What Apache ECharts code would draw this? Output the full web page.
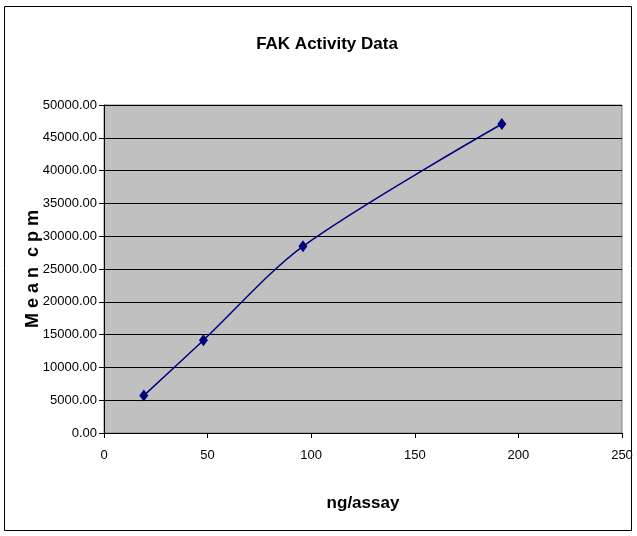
<!DOCTYPE html>
<html><head><meta charset="utf-8">
<script src="https://cdn.jsdelivr.net/npm/echarts@6/dist/echarts.min.js"></script>
<style>html,body{margin:0;padding:0;background:#fff}#c{width:637px;height:536px}</style>
</head><body><div id="c"></div>
<script>
var xValues = [19.2, 48, 96, 192];
var yValues = [5700, 14150, 28450, 47100];
var titleText = 'FAK Activity Data';
var xName = 'ng/assay';
var yName = 'M e a n  c p m';

var chart = echarts.init(document.getElementById('c'));
var F = '"Liberation Sans Narrow", "Liberation Sans", Arial, sans-serif';
chart.setOption({
  animation: false,
  backgroundColor: '#fff',
  title: { text: titleText, left: 322, textAlign: 'center', top: 31,
    textStyle: { fontFamily: F, fontSize: 17, fontWeight: 'bold', color: '#000' } },
  graphic: [{ type: 'rect', shape: { x: 4.5, y: 6.5, width: 627, height: 524 },
    style: { fill: 'none', stroke: '#000', lineWidth: 1 }, silent: true }],
  grid: { left: 104, right: 15, top: 105, bottom: 103, show: true,
    backgroundColor: '#C0C0C0', borderColor: '#808080', borderWidth: 1 },
  xAxis: { type: 'value', min: 0, max: 250, interval: 50,
    name: xName, nameLocation: 'middle', nameGap: 62, nameMoveOverlap: false,
    nameTextStyle: { fontFamily: F, fontSize: 17, fontWeight: 'bold', color: '#000' },
    axisLine: { show: true, onZero: false, lineStyle: { color: '#000', width: 1 } },
    axisTick: { show: true, length: 5, lineStyle: { color: '#000' } },
    axisLabel: { fontFamily: F, fontSize: 13, color: '#000', margin: 16 },
    splitLine: { show: false } },
  yAxis: { type: 'value', min: 0, max: 50000, interval: 5000,
    name: yName, nameLocation: 'middle', nameGap: 62, nameRotate: 90, nameMoveOverlap: false,
    nameTextStyle: { fontFamily: F, fontSize: 18, fontWeight: 'bold', color: '#000' },
    axisLine: { show: true, lineStyle: { color: '#000', width: 1 } },
    axisTick: { show: true, length: 5, lineStyle: { color: '#000' } },
    axisLabel: { fontFamily: F, fontSize: 13, color: '#000', margin: 7,
      formatter: function (v) { return v.toFixed(2); } },
    splitLine: { show: true, lineStyle: { color: '#000', width: 1 } } },
  series: [{ type: 'line', data: xValues.map(function (x, i) { return [x, yValues[i]]; }),
    smooth: 0.3, symbol: 'diamond', symbolSize: [9, 12],
    lineStyle: { color: '#000080', width: 1.5 },
    itemStyle: { color: '#000080' } }]
});
</script></body></html>
